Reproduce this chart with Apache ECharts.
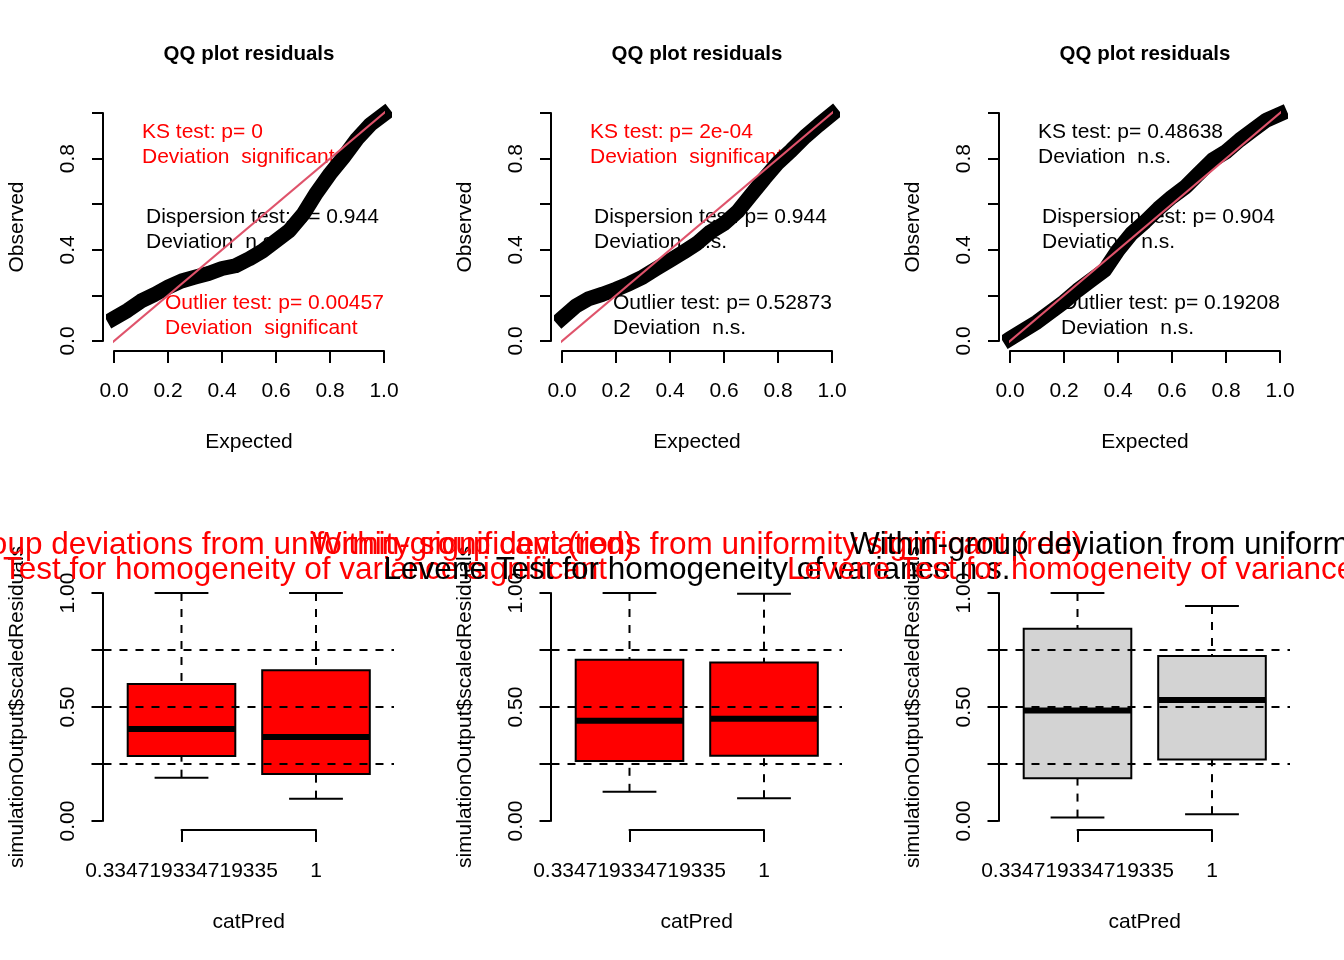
<!DOCTYPE html>
<html>
<head>
<meta charset="utf-8">
<script src="https://cdn.jsdelivr.net/npm/echarts@6/dist/echarts.min.js"></script>
<style>html,body{margin:0;padding:0;background:#fff;}#c{width:1344px;height:960px;}</style>
</head>
<body>
<div id="c"></div>
<script>
// ---------------- data ----------------
const qqExpected = [0, 0.05, 0.10, 0.15, 0.20, 0.25, 0.30, 0.35, 0.40, 0.45, 0.50, 0.55, 0.60, 0.65, 0.70, 0.75, 0.80, 0.85, 0.90, 0.95, 1.00];
const qqObserved1 = [0.10, 0.134, 0.175, 0.204, 0.236, 0.263, 0.28, 0.296, 0.318, 0.33, 0.36, 0.395, 0.44, 0.485, 0.555, 0.65, 0.733, 0.806, 0.886, 0.95, 0.995];
const qqObserved2 = [0.10, 0.152, 0.186, 0.205, 0.227, 0.252, 0.281, 0.318, 0.354, 0.39, 0.428, 0.479, 0.515, 0.567, 0.64, 0.713, 0.782, 0.837, 0.896, 0.947, 0.995];
const qqObserved3 = [0.01, 0.047, 0.083, 0.127, 0.171, 0.222, 0.266, 0.31, 0.398, 0.471, 0.523, 0.581, 0.632, 0.676, 0.735, 0.794, 0.83, 0.881, 0.925, 0.969, 0.995];
const qqRefLine = [-0.04, 1.04];
const qqXTickLabels = ['0.0', '0.2', '0.4', '0.6', '0.8', '1.0'];
const qqYTickLabels = ['0.0', '', '0.4', '', '0.8', ''];

const boxCategories = ['0.334719334719335', '1'];
// per group: [lower whisker, Q1, median, Q3, upper whisker]
const box1Stats = [[0.19, 0.285, 0.404, 0.601, 1.0], [0.098, 0.206, 0.368, 0.661, 1.0]];
const box2Stats = [[0.128, 0.263, 0.44, 0.707, 1.0], [0.10, 0.286, 0.449, 0.695, 0.997]];
const box3Stats = [[0.015, 0.187, 0.485, 0.843, 1.0], [0.03, 0.27, 0.531, 0.724, 0.943]];
const boxRefLines = [0.25, 0.5, 0.75];
const boxXTickLabels = boxCategories;
const boxYTickLabels = ['0.00', '', '0.50', '', '1.00'];

const qqTests = [
  [['KS test: p= 0', 'Deviation  significant', '#FF0000'], ['Dispersion test: p= 0.944', 'Deviation  n.s.', '#000000'], ['Outlier test: p= 0.00457', 'Deviation  significant', '#FF0000']],
  [['KS test: p= 2e-04', 'Deviation  significant', '#FF0000'], ['Dispersion test: p= 0.944', 'Deviation  n.s.', '#000000'], ['Outlier test: p= 0.52873', 'Deviation  n.s.', '#000000']],
  [['KS test: p= 0.48638', 'Deviation  n.s.', '#000000'], ['Dispersion test: p= 0.904', 'Deviation  n.s.', '#000000'], ['Outlier test: p= 0.19208', 'Deviation  n.s.', '#000000']]
];
const boxTitles = [
  [['Within-group deviations from uniformity significant (red)', '#FF0000'], ['Levene Test for homogeneity of variance significant', '#FF0000']],
  [['Within-group deviations from uniformity significant (red)', '#FF0000'], ['Levene Test for homogeneity of variance n.s.', '#000000']],
  [['Within-group deviation from uniformity n.s.', '#000000'], ['Levene Test for homogeneity of variance significant', '#FF0000']]
];
const boxFills = ['#FF0000', '#FF0000', '#D3D3D3'];
const qqTitle = 'QQ plot residuals';

// ---------------- layout ----------------
const FONT = '"Liberation Sans", Arial, Helvetica, sans-serif';
const PANEL_DX = 448;
const boxXlim = [0.42, 2.58];
const qqSets = [qqObserved1, qqObserved2, qqObserved3];
const boxSets = [box1Stats, box2Stats, box3Stats];

const axisLineStyle = { color: '#000', width: 2 };
function txt(fs, bold) { return { color: '#000', fontSize: fs, fontFamily: FONT, fontWeight: bold ? 'bold' : 'normal' }; }

const grids = [], xAxes = [], yAxes = [], series = [], graphics = [];

for (let i = 0; i < 3; i++) {
  const dx = PANEL_DX * i;
  grids.push({ left: 114 + dx, width: 270, top: 113, height: 228, containLabel: false, outerBoundsMode: 'none' });
  grids.push({ left: 181.5 + dx, width: 134.5, top: 593, height: 228, containLabel: false, outerBoundsMode: 'none' });
}

for (let i = 0; i < 3; i++) {
  const gq = 2 * i, gb = 2 * i + 1;
  const dx = PANEL_DX * i;
  // QQ axes
  xAxes.push({
    type: 'value', gridIndex: gq, min: 0, max: 1, interval: 0.2, offset: 10,
    axisLine: { show: true, onZero: false, lineStyle: axisLineStyle },
    axisTick: { show: true, inside: false, length: 12, lineStyle: axisLineStyle },
    axisLabel: Object.assign(txt(21), { margin: 30, formatter: (v) => qqXTickLabels[Math.round(v / 0.2)] }),
    splitLine: { show: false },
    name: 'Expected', nameLocation: 'middle', nameGap: 81, nameTextStyle: txt(21)
  });
  yAxes.push({
    type: 'value', gridIndex: gq, min: 0, max: 1, interval: 0.2, offset: 11,
    axisLine: { show: true, onZero: false, lineStyle: axisLineStyle },
    axisTick: { show: true, inside: false, length: 11, lineStyle: axisLineStyle },
    axisLabel: Object.assign(txt(21), { rotate: 90, margin: 24, formatter: (v) => qqYTickLabels[Math.round(v / 0.2)] }),
    splitLine: { show: false },
    name: 'Observed', nameLocation: 'middle', nameGap: 75, nameTextStyle: txt(21)
  });
  // Box axes
  xAxes.push({
    type: 'value', gridIndex: gb, min: 1, max: 2, interval: 1, offset: 9,
    axisLine: { show: true, onZero: false, lineStyle: axisLineStyle },
    axisTick: { show: true, inside: false, length: 12, lineStyle: axisLineStyle },
    axisLabel: Object.assign(txt(21), { margin: 31, formatter: (v) => boxXTickLabels[Math.round(v) - 1] }),
    splitLine: { show: false },
    name: 'catPred', nameLocation: 'middle', nameGap: 82, nameTextStyle: txt(21)
  });
  yAxes.push({
    type: 'value', gridIndex: gb, min: 0, max: 1, interval: 0.25, offset: 79,
    axisLine: { show: true, onZero: false, lineStyle: axisLineStyle },
    axisTick: { show: true, inside: false, length: 11, lineStyle: axisLineStyle },
    axisLabel: Object.assign(txt(21), { rotate: 90, margin: 24, formatter: (v) => boxYTickLabels[Math.round(v / 0.25)] }),
    splitLine: { show: false },
    name: 'simulationOutput$scaledResiduals', nameLocation: 'middle', nameGap: 75, nameTextStyle: txt(21)
  });

  // QQ band
  series.push({
    type: 'line', xAxisIndex: gq, yAxisIndex: gq, z: 2, silent: true, clip: false,
    symbol: 'none', showSymbol: false, animation: false,
    lineStyle: { color: '#000', width: 15, cap: 'square', join: 'round' },
    data: qqExpected.map((x, k) => [x, qqSets[i][k]])
  });
  // reference line
  series.push({
    type: 'line', xAxisIndex: gq, yAxisIndex: gq, z: 3, silent: true, clip: false,
    symbol: 'none', showSymbol: false, animation: false,
    lineStyle: { color: '#DF536B', width: 2 },
    data: [[qqRefLine[0], qqRefLine[0]], [qqRefLine[1], qqRefLine[1]]]
  });

  // boxes
  const fill = boxFills[i];
  series.push({
    type: 'custom', xAxisIndex: gb, yAxisIndex: gb, z: 2, silent: true, clip: false, animation: false,
    encode: { x: 0, y: [1, 2, 3, 4, 5] },
    data: boxSets[i].map((s, k) => [k + 1].concat(s)),
    renderItem: function (params, api) {
      const x = api.value(0);
      const lo = api.value(1), q1 = api.value(2), md = api.value(3), q3 = api.value(4), hi = api.value(5);
      const pLo = api.coord([x, lo]), pQ1 = api.coord([x, q1]), pMd = api.coord([x, md]), pQ3 = api.coord([x, q3]), pHi = api.coord([x, hi]);
      const xl = api.coord([x - 0.4, md])[0], xr = api.coord([x + 0.4, md])[0];
      const cl = api.coord([x - 0.2, md])[0], cr = api.coord([x + 0.2, md])[0];
      const dash = { stroke: '#000', lineWidth: 2, lineDash: [8, 8], fill: null };
      const solid = { stroke: '#000', lineWidth: 2, fill: null };
      return {
        type: 'group', children: [
          { type: 'line', shape: { x1: pHi[0], y1: pHi[1], x2: pQ3[0], y2: pQ3[1] }, style: dash },
          { type: 'line', shape: { x1: pLo[0], y1: pLo[1], x2: pQ1[0], y2: pQ1[1] }, style: dash },
          { type: 'line', shape: { x1: cl, y1: pHi[1], x2: cr, y2: pHi[1] }, style: solid },
          { type: 'line', shape: { x1: cl, y1: pLo[1], x2: cr, y2: pLo[1] }, style: solid },
          { type: 'rect', shape: { x: xl, y: pQ3[1], width: xr - xl, height: pQ1[1] - pQ3[1] }, style: { fill: fill, stroke: '#000', lineWidth: 2 } },
          { type: 'line', shape: { x1: xl, y1: pMd[1], x2: xr, y2: pMd[1] }, style: { stroke: '#000', lineWidth: 6 } }
        ]
      };
    }
  });
  // dashed reference lines
  series.push({
    type: 'custom', xAxisIndex: gb, yAxisIndex: gb, z: 4, silent: true, clip: false, animation: false,
    encode: { x: 0, y: 1 },
    data: boxRefLines.map(h => [1.5, h]),
    renderItem: function (params, api) {
      const h = api.value(1);
      const a = api.coord([boxXlim[0], h]), b = api.coord([boxXlim[1], h]);
      return { type: 'line', shape: { x1: a[0], y1: a[1], x2: b[0], y2: b[1] }, style: { stroke: '#000', lineWidth: 2, lineDash: [8, 8], fill: null } };
    }
  });

  // QQ title
  graphics.push({ type: 'text', x: 249 + dx, y: 54, z: 100, style: { text: qqTitle, fill: '#000', font: 'bold 20.5px ' + FONT, align: 'center', verticalAlign: 'middle' } });
  // QQ test annotations
  const tx = [28, 32, 51], ty = [132, 217, 303];
  qqTests[i].forEach((t, k) => {
    graphics.push({ type: 'text', x: 114 + dx + tx[k], y: ty[k], z: 1, style: { text: t[0], fill: t[2], font: '21px ' + FONT, align: 'left', verticalAlign: 'middle' } });
    graphics.push({ type: 'text', x: 114 + dx + tx[k], y: ty[k] + 25, z: 1, style: { text: t[1], fill: t[2], font: '21px ' + FONT, align: 'left', verticalAlign: 'middle' } });
  });
}
// box titles drawn last, panel by panel
for (let i = 0; i < 3; i++) {
  const dx = PANEL_DX * i;
  boxTitles[i].forEach((t, k) => {
    graphics.push({ type: 'text', x: 249 + dx, y: 545 + 25 * k, z: 100 + i, style: { text: t[0], fill: t[1], font: '31.5px ' + FONT, align: 'center', verticalAlign: 'middle' } });
  });
}

const chart = echarts.init(document.getElementById('c'), null, { renderer: 'canvas' });
chart.setOption({
  animation: false,
  backgroundColor: '#ffffff',
  grid: grids,
  xAxis: xAxes,
  yAxis: yAxes,
  series: series,
  graphic: { elements: graphics }
});
</script>
</body>
</html>
